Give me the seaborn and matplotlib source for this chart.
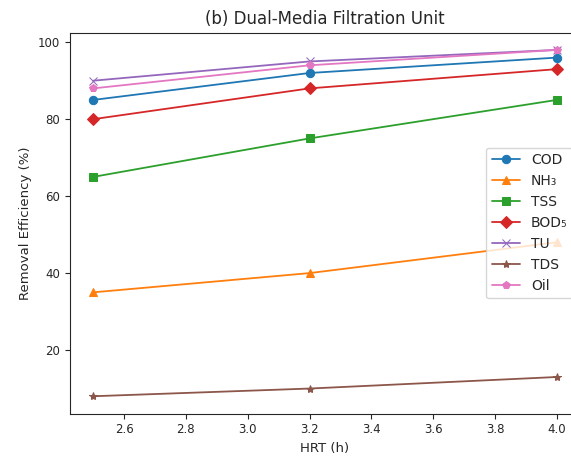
import matplotlib
matplotlib.use("Agg")
import matplotlib.pyplot as plt
import seaborn as sns

hrt = [2.5, 3.2, 4.0]
labels = ["COD", "NH₃", "TSS", "BOD₅", "TU", "TDS", "Oil"]
cod = [85, 92, 96]
nh3 = [35, 40, 48]
tss = [65, 75, 85]
bod5 = [80, 88, 93]
tu = [90, 95, 98]
tds = [8, 10, 13]
oil = [88, 94, 98]
series = [cod, nh3, tss, bod5, tu, tds, oil]
markers = ["o", "^", "s", "D", "x", "*", "p"]

sns.set_style("ticks")
plt.rcParams["font.family"] = ["DejaVu Sans"]
colors = sns.color_palette("tab10")

fig = plt.figure(figsize=(5.71, 4.59), dpi=100)
# the original image is cropped on the right, so the axes run past the edge
ax = fig.add_axes([0.1226, 0.099, 0.893, 0.83])

for i, (lab, vals) in enumerate(zip(labels, series)):
    sns.lineplot(x=hrt, y=vals, ax=ax, label=lab, marker=markers[i],
                 color=colors[i], markersize=6, linewidth=1.3,
                 markeredgecolor=colors[i])

ax.set_title("(b) Dual-Media Filtration Unit", fontsize=12)
ax.set_xlabel("HRT (h)", fontsize=9.5)
ax.set_ylabel("Removal Efficiency (%)", fontsize=9.5)
ax.tick_params(labelsize=8.5)
ax.legend(loc="center right", fontsize=10)

fig.savefig("out.png", dpi=100)
